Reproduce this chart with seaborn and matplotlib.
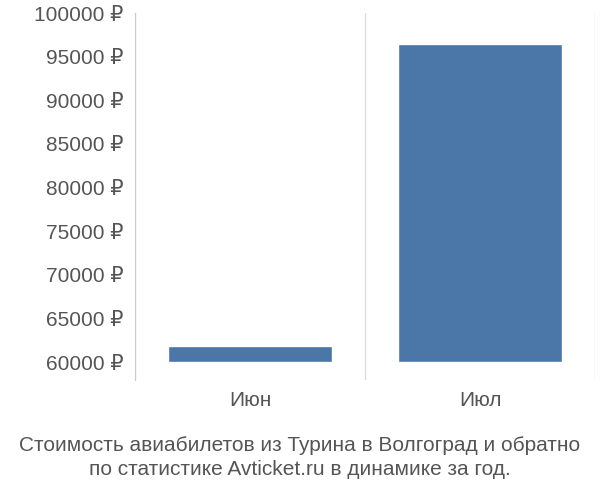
import matplotlib
matplotlib.use("Agg")
import matplotlib.pyplot as plt
import seaborn as sns
import numpy as np

months = ["Июн", "Июл"]
prices = [61830, 96500]
base = 60000
yticks = [60000, 65000, 70000, 75000, 80000, 85000, 90000, 95000, 100000]

sns.set_style("white")
plt.rcParams['font.family'] = ['Liberation Sans', 'DejaVu Sans']

fig = plt.figure(figsize=(6, 5), dpi=100)
ax = fig.add_axes([0.225, 0.24, 0.767, 0.734])

sns.barplot(x=months, y=np.array(prices) - base, bottom=base, color="#4a76a8",
            saturation=1, width=0.71, ax=ax)

ax.set_xlim(-0.5, 1.5)
ax.set_ylim(57940, 100000)
ax.set_yticks(yticks)
ax.set_yticklabels([f"{v} ₽" for v in yticks], fontsize=15, color="#555555")
ax.tick_params(axis='x', labelsize=15, colors="#555555", length=0, pad=8)
ax.tick_params(axis='y', length=5, color="#cccccc", colors="#555555")
for x in [-0.5, 0.5, 1.5]:
    ax.axvline(x, color="#dddddd", lw=1, zorder=0)
for s in ["top", "right", "bottom"]:
    ax.spines[s].set_visible(False)
ax.spines["left"].set_color("#cccccc")

fig.text(0.5, 0.085, "Стоимость авиабилетов из Турина в Волгоград и обратно\nпо статистике Avticket.ru в динамике за год.",
         ha="center", va="center", fontsize=15, color="#555555", linespacing=1.3)

fig.savefig("out.png", dpi=100)
